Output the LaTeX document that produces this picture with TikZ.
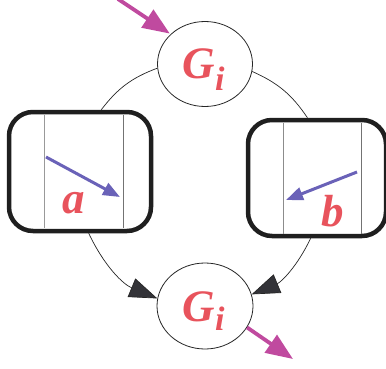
\documentclass[tikz,border=0pt]{standalone}
\usepackage{fontspec}
\setmainfont{Liberation Serif}
\usetikzlibrary{shapes.geometric,arrows.meta}
\definecolor{lblred}{HTML}{E8535C}
\definecolor{arrblue}{HTML}{6A62B8}
\definecolor{arrmag}{HTML}{C04A9F}
\definecolor{headgray}{HTML}{333338}
\begin{document}
\begin{tikzpicture}[x=1pt,y=1pt,
  ell/.style={draw=black!85,line width=0.8pt,ellipse,inner sep=0pt,fill=white},
  roundbox/.style={draw=black!88,line width=4.5pt,rounded corners=24pt,rectangle,inner sep=0pt},
  cycle/.style={draw=black!85,line width=0.7pt,-{Triangle[length=28pt,width=20pt,fill=headgray]}},
  plain/.style={draw=black!85,line width=0.7pt},
  magarrow/.style={draw=arrmag,line width=3.8pt,-{Triangle[length=27pt,width=21pt]}},
  bluearrow/.style={draw=arrblue,line width=3pt,-{Triangle[length=17pt,width=13pt]}},
  divider/.style={draw=black!55,line width=1pt},
  bigtxt/.style={text=lblred,font=\fontsize{45}{45}\selectfont\bfseries\itshape,inner sep=0pt,anchor=base west},
  subtxt/.style={text=lblred,font=\fontsize{34}{34}\selectfont\bfseries\itshape,inner sep=0pt,anchor=base west}
]
\useasboundingbox (0,0) rectangle (386,368);
% nodes
\node[ell,minimum width=95pt,minimum height=85pt] (gt) at (205,304) {};
\node[ell,minimum width=96pt,minimum height=86pt] (gb) at (205,62) {};
\node[roundbox,minimum width=142pt,minimum height=119pt] (lb) at (80,196.5) {};
\node[roundbox,minimum width=138pt,minimum height=116pt] (rb) at (317,190) {};
% dividers
\coordinate (l1t) at (44,253); \coordinate (l1b) at (44,140);
\coordinate (l2t) at (123,253); \coordinate (l2b) at (123,140);
\coordinate (r1t) at (283,245); \coordinate (r1b) at (283,134);
\coordinate (r2t) at (361,245); \coordinate (r2b) at (361,134);
\draw[divider,draw=black!40] (l1t) -- (l1b);
\draw[divider] (l2t) -- (l2b);
\draw[divider,draw=black!45] (r1t) -- (r1b);
\draw[divider] (r2t) -- (r2b);
% cycle connectors
\draw[plain] (gt.185) to[bend right=16] (lb.71);
\draw[plain] (gt.351) to[bend left=16] (rb.99);
\draw[cycle] (lb.278) to[bend right=21] (gb.171);
\draw[cycle] (rb.264) to[bend left=21] (gb.14);
% blue arrows
\coordinate (ba1) at (46,211); \coordinate (ba2) at (120,171);
\coordinate (bb1) at (357,196); \coordinate (bb2) at (286,168);
\draw[bluearrow] (ba1) -- (ba2);
\draw[bluearrow] (bb1) -- (bb2);
% magenta arrows
\coordinate (m1) at (118,369);
\coordinate (m2) at (293,9);
\draw[magarrow,shorten >=1pt] (m1) -- (gt.139);
\draw[magarrow] (gb.333) -- (m2);
% labels
\node[bigtxt] (gtG) at (182,290) {G};
\node[subtxt] (gti) at (215,278) {i};
\node[bigtxt] (gbG) at (182,47) {G};
\node[subtxt] (gbi) at (215,38) {i};
\node[bigtxt] (la) at (62,155) {a};
\node[bigtxt] (lbb) at (321,142) {b};
\end{tikzpicture}
\end{document}
